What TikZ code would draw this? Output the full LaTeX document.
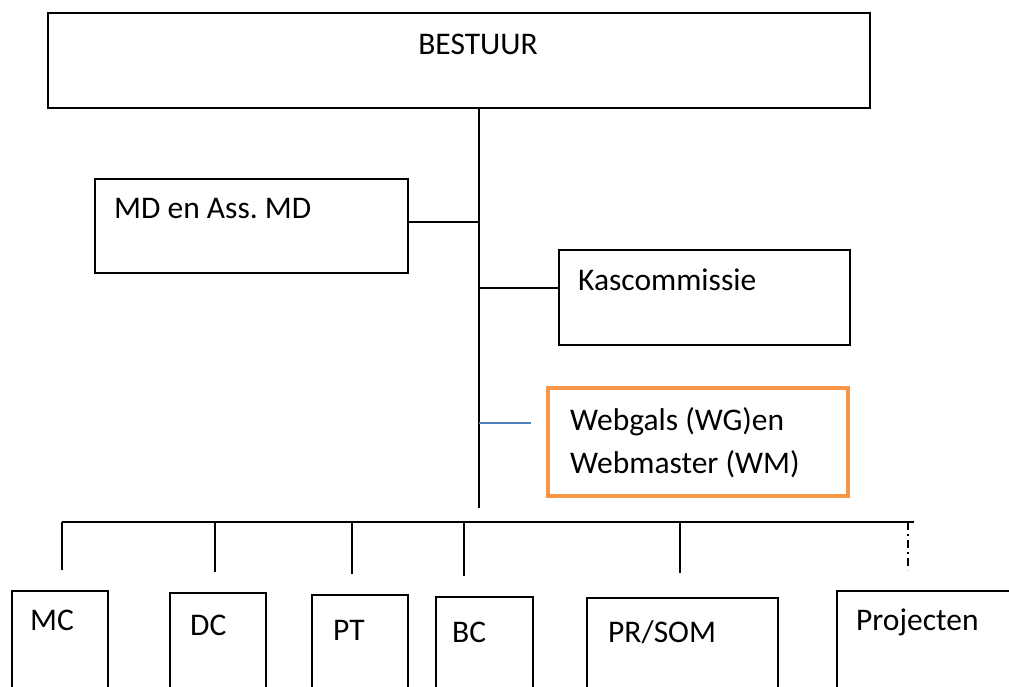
\documentclass[tikz,border=0pt]{standalone}
\usepackage{fontspec}
\setmainfont{Carlito}
\definecolor{wgorange}{HTML}{F79646}
\definecolor{wgblue}{HTML}{4F81BD}
\frenchspacing
\begin{document}
\begin{tikzpicture}[x=1pt,y=-1pt,
  box/.style={draw,line width=2pt,inner sep=0pt,anchor=north west},
  lbl/.style={anchor=base west,inner sep=0pt,font=\fontsize{31.5}{38}\selectfont},
  conn/.style={line width=2pt}]
\useasboundingbox (0,0) rectangle (1009,686);
\clip (0,0) rectangle (1009,686);
% boxes
\node[box,minimum width=822pt,minimum height=95pt] (bestuur) at (47,12) {};
\node[box,minimum width=313pt,minimum height=94pt] (md) at (94,178) {};
\node[box,minimum width=291pt,minimum height=95pt] (kas) at (558,249) {};
\node[box,draw=wgorange,line width=4pt,minimum width=300pt,minimum height=108pt] (web) at (546,386) {};
\node[box,minimum width=96pt,minimum height=120pt] (mc) at (11,590) {};
\node[box,minimum width=96pt,minimum height=120pt] (dc) at (169,592) {};
\node[box,minimum width=96pt,minimum height=120pt] (pt) at (311,594) {};
\node[box,minimum width=97pt,minimum height=120pt] (bc) at (435,596) {};
\node[box,minimum width=191pt,minimum height=120pt] (pr) at (586,597) {};
\node[box,minimum width=200pt,minimum height=120pt] (proj) at (836,590) {};
% labels
\node[anchor=base,inner sep=0pt,font=\fontsize{31.5}{38}\selectfont] (tb) at (478,54) {BESTUUR};
\node[lbl] (tmd) at (114,218) {MD en Ass. MD};
\node[lbl] (tkas) at (578,290) {Kascommissie};
\node[lbl] (tweb1) at (570,430) {Webgals (WG)en};
\node[lbl] (tweb2) at (570,473) {Webmaster (WM)};
\node[lbl] (tmc) at (30,630) {MC};
\node[lbl] (tdc) at (190,635) {DC};
\node[lbl] (tpt) at (333,640) {PT};
\node[lbl] (tbc) at (452,642) {BC};
\node[lbl] (tpr) at (608,642) {PR/SOM};
\node[lbl] (tproj) at (856,630) {Projecten};
% main trunk
\coordinate (bot) at (479,508);
\draw[conn] (bestuur.south -| bot) -- (bot);
\coordinate (kmd) at (479,222);
\draw[conn] (kmd -| md.east) -- (kmd);
\coordinate (kk) at (479,288);
\draw[conn] (kk) -- (kk -| kas.west);
\coordinate (kw) at (479,423);
\coordinate (kwe) at (531,423);
\draw[wgblue,line width=1.5pt] (kw) -- (kwe);
% bus
\coordinate (busL) at (62,522);
\coordinate (busR) at (914,522);
\draw[conn] (busL) -- (busR);
\coordinate (dmc) at (62,570);
\coordinate (ddc) at (215,572);
\coordinate (dpt) at (352,574);
\coordinate (dbc) at (464,576);
\coordinate (dpr) at (680,573);
\coordinate (dproj) at (908,570);
\draw[conn] (busL) -- (dmc);
\draw[conn] (ddc |- busL) -- (ddc);
\draw[conn] (dpt |- busL) -- (dpt);
\draw[conn] (dbc |- busL) -- (dbc);
\draw[conn] (dpr |- busL) -- (dpr);
\draw[conn,dash pattern=on 8pt off 4pt on 2pt off 4pt] (dproj |- busL) -- (dproj);
\end{tikzpicture}
\end{document}
